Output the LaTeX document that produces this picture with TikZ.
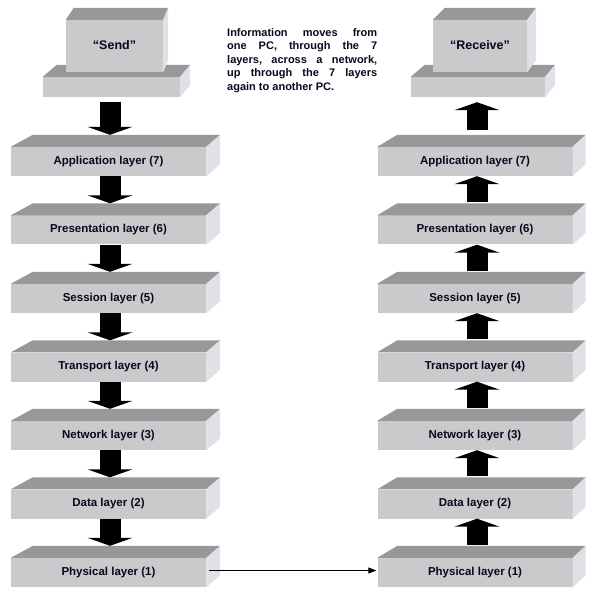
\documentclass[tikz,border=0pt]{standalone}
\usepackage{fontspec}
\setmainfont{Liberation Sans}
\usetikzlibrary{arrows.meta,calc}
\definecolor{frontc}{RGB}{202,202,204}
\definecolor{topc}{RGB}{152,152,154}
\definecolor{sidec}{RGB}{226,224,230}
\definecolor{txtc}{RGB}{8,8,30}
\newcommand\boxfaces[4]{%
  \fill[topc] (#1.north west) -- ++(#2,-#4) -- ($(#1.north east)+(#3,-#4)$) -- (#1.north east) -- cycle;
  \fill[sidec] (#1.north east) -- ++(#3,-#4) -- ($(#1.south east)+(#3,-#4)$) -- (#1.south east) -- cycle;}
\begin{document}
\begin{tikzpicture}[x=1pt,y=-1pt,
  layer/.style={fill=frontc, minimum width=195pt, minimum height=29pt, inner sep=0pt,
    font=\fontsize{11.5}{13}\selectfont\bfseries, text=txtc},
  pcbox/.style={fill=frontc, inner sep=0pt, font=\fontsize{12.5}{14}\selectfont\bfseries, text=txtc},
  bigarrow/.style={draw=black, line width=21pt, -{Triangle[width=45pt,length=8pt]}},
  thinarrow/.style={draw=black, line width=1pt, -{Triangle[width=6pt,length=8pt]}}]
\useasboundingbox (0,0) rectangle (597,596);
\fill[white] (0,0) rectangle (597,596);

% Send PC
\node[pcbox, minimum width=137pt, minimum height=20pt] (sendbase) at (111.5,87) {};
\boxfaces{sendbase}{14}{10}{12}
\node[pcbox, minimum width=97pt, minimum height=52pt] (send) at (114.5,46) {\raisebox{2pt}{“Send”}};
\boxfaces{send}{8}{5}{12}

% Receive PC
\node[pcbox, minimum width=134pt, minimum height=20pt] (recvbase) at (478,87) {};
\boxfaces{recvbase}{14}{10}{12}
\node[pcbox, minimum width=94pt, minimum height=52pt] (recv) at (480,46) {\raisebox{2pt}{“Receive”}};
\boxfaces{recv}{12}{9}{12}

% info text
\node[anchor=north west, inner sep=0pt, text=txtc, font=\fontsize{11}{13.5}\selectfont\bfseries, align=left] (info) at (227,28)
{\hbox to 150pt{Information\hfill moves\hfill from}\\
 \hbox to 150pt{one\hfill PC,\hfill through\hfill the\hfill 7}\\
 \hbox to 150pt{layers,\hfill across\hfill a\hfill network,}\\
 \hbox to 150pt{up\hfill through\hfill the\hfill 7\hfill layers}\\
 again to another PC.};

% layers
\foreach \n/\lab [count=\i from 0] in {7/Application layer (7),6/Presentation layer (6),5/Session layer (5),4/Transport layer (4),3/Network layer (3),2/Data layer (2),1/Physical layer (1)}{
  \node[layer] (L\n) at (108.5,161.5+68.5*\i) {\raisebox{1.5pt}{\lab}};
  \boxfaces{L\n}{22}{14}{12}
  \node[layer] (R\n) at (475,161.5+68.5*\i) {\raisebox{1.5pt}{\lab}};
  \boxfaces{R\n}{20}{13}{12}
}

% left column arrows (down)
\draw[bigarrow] ([xshift=-1.5pt,yshift=-5pt]sendbase.south) -- ([xshift=1.5pt,yshift=12pt]L7.north);
\foreach \a/\b in {7/6,6/5,5/4,4/3,3/2,2/1}{
  \draw[bigarrow] ([xshift=1.5pt]L\a.south) -- ([xshift=1.5pt,yshift=12pt]L\b.north);
}
% right column arrows (up)
\draw[bigarrow] ([xshift=2pt,yshift=17pt]R7.north) -- ([xshift=-1pt,yshift=-5pt]recvbase.south);
\foreach \a/\b in {1/2,2/3,3/4,4/5,5/6,6/7}{
  \draw[bigarrow] ([xshift=2pt,yshift=13pt]R\a.north) -- ([xshift=2pt]R\b.south);
}
% network
\draw[thinarrow] ([xshift=3pt,yshift=2pt]L1.east) -- ([xshift=-1pt,yshift=2pt]R1.west);
\end{tikzpicture}
\end{document}
